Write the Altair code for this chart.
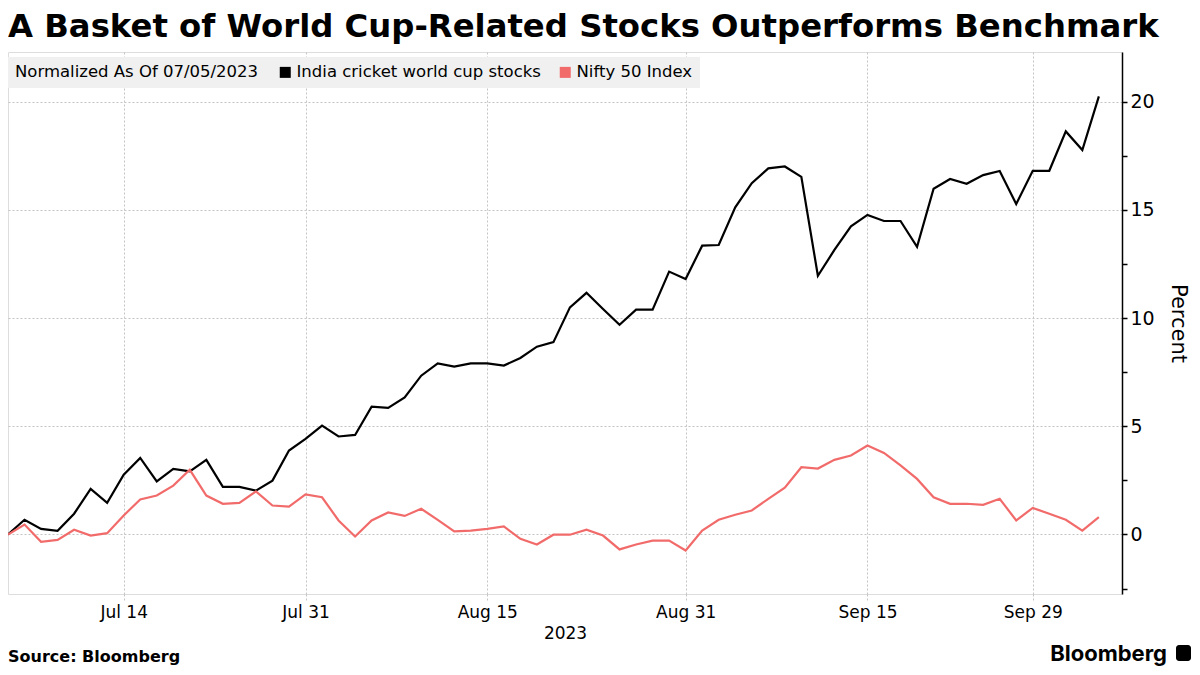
import altair as alt
import pandas as pd

# ---- data ----
start_date = "2023-07-05"
end_date = "2023-10-05"
series_names = ["India cricket world cup stocks", "Nifty 50 Index"]
series_colors = ["#000000", "#f26b6b"]

wc_stocks = [0.0, 0.68, 0.26, 0.17, 0.96, 2.11, 1.46, 2.76, 3.54, 2.45,
             3.03, 2.92, 3.45, 2.20, 2.20, 2.03, 2.49, 3.88, 4.42, 5.03,
             4.53, 4.60, 5.91, 5.85, 6.34, 7.34, 7.91, 7.76, 7.91, 7.91,
             7.81, 8.16, 8.68, 8.89, 10.50, 11.17, 10.42, 9.69, 10.39, 10.39,
             12.15, 11.81, 13.35, 13.38, 15.12, 16.24, 16.92, 17.01, 16.53, 11.96,
             13.15, 14.24, 14.77, 14.49, 14.49, 13.30, 15.98, 16.43, 16.21, 16.61,
             16.80, 15.27, 16.81, 16.81, 18.63, 17.77, 20.25]

nifty = [0.0, 0.46, -0.34, -0.25, 0.22, -0.05, 0.06, 0.88, 1.62, 1.80,
         2.26, 2.99, 1.80, 1.42, 1.46, 1.99, 1.34, 1.29, 1.85, 1.72,
         0.65, -0.09, 0.65, 1.02, 0.86, 1.19, 0.68, 0.14, 0.18, 0.26,
         0.37, -0.20, -0.46, -0.01, -0.01, 0.22, -0.05, -0.69, -0.46, -0.28,
         -0.28, -0.74, 0.18, 0.68, 0.91, 1.11, 1.65, 2.16, 3.11, 3.05,
         3.45, 3.65, 4.11, 3.77, 3.19, 2.57, 1.72, 1.42, 1.42, 1.37,
         1.65, 0.65, 1.23, 0.96, 0.68, 0.18, 0.80]

tick_dates = ["2023-07-14", "2023-07-31", "2023-08-15", "2023-08-31", "2023-09-15", "2023-09-29"]
tick_labels = ["Jul 14", "Jul 31", "Aug 15", "Aug 31", "Sep 15", "Sep 29"]
y_ticks = [-2.5, 0, 2.5, 5, 7.5, 10, 12.5, 15, 17.5, 20]

title_text = "A Basket of World Cup-Related Stocks Outperforms Benchmark"
legend_title = "Normalized As Of 07/05/2023"
x_title = "2023"
y_title = "Percent"
source_text = "Source: Bloomberg"
logo_text = "Bloomberg"

# ---- build table ----
dates = pd.bdate_range(start_date, end_date)
rows = []
for name, vals in zip(series_names, [wc_stocks, nifty]):
    for i, (d, v) in enumerate(zip(dates, vals)):
        rows.append({"idx": i, "date": d.strftime("%Y-%m-%d"), "series": name, "value": v})
df = pd.DataFrame(rows)

tick_pos = [int(dates.get_loc(pd.Timestamp(t))) for t in tick_dates]
label_expr = "".join(f"datum.value == {p} ? '{l}' : " for p, l in zip(tick_pos, tick_labels)) + "''"

W, H = 1114, 542
FONT = "DejaVu Sans"

x_enc = alt.X("idx:Q",
              scale=alt.Scale(domain=[0, 67.4], nice=False, zero=False),
              axis=alt.Axis(values=tick_pos, labelExpr=label_expr, title=x_title,
                            grid=True, gridDash=[2, 2], gridColor="#c4c4c4", gridWidth=1,
                            domain=False, ticks=True, tickDash=[2, 2], tickColor="#c4c4c4",
                            tickSize=7, labelFontSize=17, labelPadding=3, labelFont=FONT,
                            labelColor="#000", titleFont=FONT, titleFontSize=17,
                            titleFontWeight="normal", titleColor="#000", titlePadding=5))
y_enc = alt.Y("value:Q",
              scale=alt.Scale(domain=[-2.75, 22.3], nice=False, zero=False),
              axis=alt.Axis(orient="right", values=y_ticks,
                            labelExpr="datum.value % 5 === 0 ? datum.label : ''",
                            grid=True, gridDash=[2, 2], gridColor="#c4c4c4", gridWidth=1,
                            gridOpacity={"condition": {"test": "datum.value % 5 === 0", "value": 1}, "value": 0},
                            domain=True, domainColor="#000", domainWidth=1.5,
                            ticks=True, tickColor="#000", tickSize=5, tickWidth=1.5,
                            labelFontSize=19, labelFont=FONT, labelColor="#000", labelPadding=3,
                            title=y_title, titleAngle=90, titleFont=FONT, titleFontSize=21,
                            titleFontWeight="normal", titleColor="#000", titlePadding=13))
color_scale = alt.Scale(domain=series_names, range=series_colors)

lines = alt.Chart(df).mark_line(strokeWidth=2.2).encode(
    x=x_enc, y=y_enc,
    color=alt.Color("series:N", scale=color_scale, legend=None),
)

legend_layer = alt.Chart(df).transform_filter("datum.idx < 0").mark_square(
    filled=True, size=121, opacity=1
).encode(
    x=alt.X("idx:Q"), y=alt.Y("value:Q"),
    color=alt.Color("series:N", scale=color_scale, sort=series_names,
                    legend=alt.Legend(orient="none", legendX=0, legendY=5, direction="horizontal",
                                      title=legend_title, titleOrient="left", titleFont=FONT,
                                      titleFontSize=16.5, titleFontWeight="normal", titleColor="#000",
                                      titlePadding=18, titleBaseline="middle", titleLimit=500,
                                      labelFont=FONT, labelFontSize=16.5, labelColor="#000", labelOffset=3,
                                      labelLimit=500, symbolType="square", symbolSize=121,
                                      symbolStrokeWidth=0, symbolOpacity=1,
                                      columnPadding=16, fillColor="#f0f0f0", padding=7)),
)

title = alt.Chart(pd.DataFrame({"t": [title_text]})).mark_text(
    align="left", baseline="alphabetic", font=FONT, fontSize=32.3, fontWeight="bold", color="#000"
).encode(text="t:N", x=alt.value(0), y=alt.value(-15))

source = alt.Chart(pd.DataFrame({"t": [source_text]})).mark_text(
    align="left", baseline="alphabetic", font=FONT, fontSize=16, fontWeight="bold", color="#000"
).encode(text="t:N", x=alt.value(0), y=alt.value(610))

logo = alt.Chart(pd.DataFrame({"t": [logo_text]})).mark_text(
    align="right", baseline="alphabetic", font="Inter", fontSize=22, fontWeight="bold", color="#000"
).encode(text="t:N", x=alt.value(1159), y=alt.value(609))

logo_icon = alt.Chart(pd.DataFrame({"t": [logo_text]})).mark_rect(
    color="#000", cornerRadius=3
).encode(x=alt.value(1168), x2=alt.value(1183), y=alt.value(593), y2=alt.value(609))

chart = alt.layer(lines, legend_layer, title, source, logo, logo_icon).resolve_legend(
    color="independent"
).properties(
    width=W, height=H,
    autosize=alt.AutoSizeParams(type="none"),
    padding={"left": 0, "top": 44, "right": 70, "bottom": 73},
).configure_view(stroke=None).configure(font=FONT)

chart.save("out.html", embed_options={"renderer": "svg", "actions": False})
